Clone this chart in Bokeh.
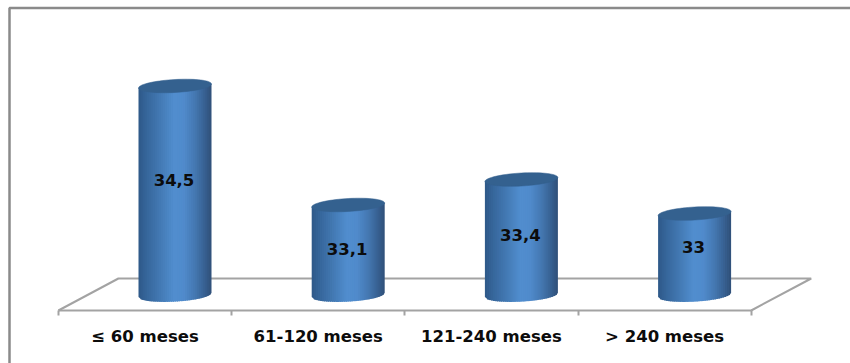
import math

from bokeh.core.properties import value
from bokeh.embed import file_html
from bokeh.models import FixedTicker, LinearAxis, Range1d
from bokeh.plotting import figure
from bokeh.resources import INLINE

categories = ["\u2264 60 meses", "61-120 meses", "121-240 meses", "> 240 meses"]
values = [34.5, 33.1, 33.4, 33.0]
value_labels = ["34,5", "33,1", "33,4", "33"]
label_levels = [33.39, 32.58, 32.75, 32.61]
base_value = 32.04

# Screen scale of the two axes
PX_PER_CAT = 173.2
PX_PER_UNIT = 85.0
WIDTH, HEIGHT = 850, 363
X_LEFT = -144.5 / PX_PER_CAT
Y_TOP = 34.5 + 85.5 / PX_PER_UNIT

# Floor of the pseudo-3D scene and cylinder shape, in pixels
DEPTH_X, DEPTH_Y = 60.0, 32.0
FLOOR_VALUE = Y_TOP - 310.0 / PX_PER_UNIT
BAR_SHIFT = 30.0
RADIUS_X, RADIUS_Y, TILT = 36.5, 6.5, 0.055
STRIPS = 36
STRIP_OVERLAP = 1.0

GRAD_STOPS = [
    (0.00, (46, 88, 136)),
    (0.12, (55, 103, 156)),
    (0.30, (68, 122, 180)),
    (0.48, (81, 141, 206)),
    (0.62, (80, 139, 204)),
    (0.78, (68, 119, 176)),
    (0.92, (54, 94, 142)),
    (1.00, (48, 80, 120)),
]
TOP_COLOR = "#34618f"
RULE_COLOR = "#a3a3a3"
FRAME_COLOR = "#8a8a8a"
TEXT_COLOR = "#0c0c0c"


def px_x(px):
    return X_LEFT + px / PX_PER_CAT


def px_y(px):
    return Y_TOP - px / PX_PER_UNIT


def shade(t):
    for (t0, c0), (t1, c1) in zip(GRAD_STOPS, GRAD_STOPS[1:]):
        if t <= t1:
            f = (t - t0) / (t1 - t0)
            rgb = [round(a + (b - a) * f) for a, b in zip(c0, c1)]
            return "#%02x%02x%02x" % tuple(rgb)
    return "#%02x%02x%02x" % GRAD_STOPS[-1][1]


p = figure(
    width=WIDTH,
    height=HEIGHT,
    output_backend="svg",
    toolbar_location=None,
    min_border=0,
    x_axis_type=None,
    y_axis_type=None,
    x_range=Range1d(X_LEFT, X_LEFT + WIDTH / PX_PER_CAT),
    y_range=Range1d(Y_TOP - HEIGHT / PX_PER_UNIT, Y_TOP),
    outline_line_color=None,
    background_fill_color="white",
)
p.grid.visible = False

# Chart-area border: only the top and left edges are visible
p.line([px_x(9), px_x(9), px_x(WIDTH)], [px_y(HEIGHT), px_y(7.5), px_y(7.5)],
       line_color=FRAME_COLOR, line_width=2.5)

# Floor outline behind the cylinders
n = len(categories)
floor_x = [-0.5, -0.5 + DEPTH_X / PX_PER_CAT, n - 0.5 + DEPTH_X / PX_PER_CAT, n - 0.5]
floor_y = [FLOOR_VALUE, FLOOR_VALUE + DEPTH_Y / PX_PER_UNIT,
           FLOOR_VALUE + DEPTH_Y / PX_PER_UNIT, FLOOR_VALUE]
p.line(floor_x, floor_y, line_color=RULE_COLOR, line_width=2)

# Category axis: one axis for the boundary ticks, one for the centred labels
tick_axis = LinearAxis(
    ticker=FixedTicker(ticks=[i - 0.5 for i in range(n + 1)]),
    fixed_location=FLOOR_VALUE,
    bounds=(-0.5, n - 0.5),
    axis_line_color=RULE_COLOR,
    axis_line_width=2,
    major_tick_line_color=RULE_COLOR,
    major_tick_line_width=2,
    major_tick_in=0,
    major_tick_out=5,
    minor_tick_line_color=None,
    major_label_text_font_size="0px",
    major_label_text_color=None,
)
label_axis = LinearAxis(
    ticker=FixedTicker(ticks=list(range(n))),
    fixed_location=FLOOR_VALUE,
    axis_line_color=None,
    major_tick_line_color=None,
    minor_tick_line_color=None,
    major_label_overrides={i: c for i, c in enumerate(categories)},
    major_label_standoff=10,
    major_label_text_font="DejaVu Sans",
    major_label_text_font_style="bold",
    major_label_text_font_size="16.5px",
    major_label_text_color=TEXT_COLOR,
)
p.add_layout(tick_axis, "below")
p.add_layout(label_axis, "below")

# Cylinders: shaded vertical strips, painted left to right so that each one
# overlaps the previous strip and no seams show, under an elliptical cap
strip_xs, strip_ys, strip_colors = [], [], []
cap_xs, cap_ys = [], []


def arc_drop(d):
    return RADIUS_Y * math.sqrt(max(0.0, 1 - (d / RADIUS_X) ** 2))


for i, v in enumerate(values):
    centre = i + BAR_SHIFT / PX_PER_CAT
    for k in range(STRIPS):
        d0 = -RADIUS_X + 2 * RADIUS_X * k / STRIPS
        d1 = min(RADIUS_X, -RADIUS_X + 2 * RADIUS_X * (k + 1) / STRIPS + STRIP_OVERLAP)
        strip_xs.append([centre + d0 / PX_PER_CAT, centre + d1 / PX_PER_CAT,
                         centre + d1 / PX_PER_CAT, centre + d0 / PX_PER_CAT])
        strip_ys.append([
            base_value + (TILT * d0 - arc_drop(d0)) / PX_PER_UNIT,
            base_value + (TILT * d1 - arc_drop(d1)) / PX_PER_UNIT,
            v + TILT * d1 / PX_PER_UNIT,
            v + TILT * d0 / PX_PER_UNIT,
        ])
        strip_colors.append(shade((k + 0.5) / STRIPS))
    angles = [2 * math.pi * a / 72 for a in range(72)]
    cap_xs.append([centre + RADIUS_X * math.cos(a) / PX_PER_CAT for a in angles])
    cap_ys.append([v + (TILT * RADIUS_X * math.cos(a) + RADIUS_Y * math.sin(a)) / PX_PER_UNIT
                   for a in angles])

p.patches(strip_xs, strip_ys, fill_color=strip_colors, line_color=None)
p.patches(cap_xs, cap_ys, fill_color=TOP_COLOR, line_color=TOP_COLOR, line_width=0.5)

# Value labels inside the cylinders
p.text(
    x=[i + (BAR_SHIFT - 1) / PX_PER_CAT for i in range(n)],
    y=label_levels,
    text=value_labels,
    text_align="center",
    text_baseline="middle",
    text_font=value("DejaVu Sans"),
    text_font_style="bold",
    text_font_size="16.5px",
    text_color=TEXT_COLOR,
)

open("out.html", "w").write(file_html(p, INLINE))
